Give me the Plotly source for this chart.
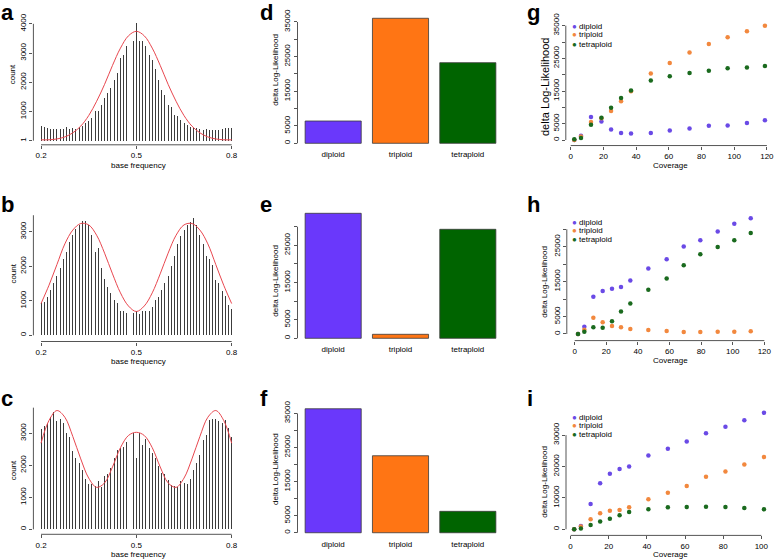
import plotly.graph_objects as go

W, H = 778, 559

# ---------------- data ----------------
freq = [0.20, 0.21, 0.22, 0.23, 0.24, 0.25, 0.26, 0.27, 0.28, 0.29,
        0.30, 0.31, 0.32, 0.33, 0.34, 0.35, 0.36, 0.37, 0.38, 0.39,
        0.40, 0.41, 0.42, 0.43, 0.44, 0.45, 0.46, 0.47, 0.48, 0.49,
        0.50, 0.51, 0.52, 0.53, 0.54, 0.55, 0.56, 0.57, 0.58, 0.59,
        0.60, 0.61, 0.62, 0.63, 0.64, 0.65, 0.66, 0.67, 0.68, 0.69,
        0.70, 0.71, 0.72, 0.73, 0.74, 0.75, 0.76, 0.77, 0.78, 0.79, 0.80]

hist_a = [510, 480, 420, 410, 400, 390, 390, 390, 460, 400,
          430, 400, 480, 510, 590, 690, 780, 1030, 1030, 1210,
          1460, 1630, 1800, 2090, 2320, 2830, 2950, 3230, 3520, 3430,
          4030, 3430, 3430, 3230, 2920, 2780, 2470, 2090, 1750, 1550,
          1210, 1140, 890, 830, 720, 610, 550, 460, 430, 430,
          400, 370, 400, 380, 380, 380, 380, 400, 430, 430, 430]
hist_b = [930, 975, 1120, 1310, 1510, 1720, 1940, 2220, 2420, 2700,
          2910, 3080, 3200, 3310, 3310, 3200, 2910, 2420, 2540, 1940,
          1630, 1410, 1220, 1020, 930, 700, 690, 660, 660, 640,
          700, 630, 700, 690, 710, 830, 1020, 1120, 1310, 1510,
          1730, 2010, 2300, 2640, 2890, 3050, 3200, 3270, 3390, 3200,
          2910, 2640, 2310, 2220, 2040, 1600, 1510, 1270, 1150, 880, 760]
hist_c = [3136, 3230, 3310, 3520, 3650, 3370, 3440, 3330, 3020, 2880,
          2460, 2220, 2060, 1850, 1560, 1420, 1420, 1350, 1520, 1330,
          1650, 1730, 1910, 2220, 2480, 2530, 2580, 2740, 2900, 3000,
          2220, 3000, 2640, 2810, 2530, 2380, 2220, 1980, 1750, 1730,
          1540, 1390, 1350, 1310, 1520, 1460, 1420, 1560, 1850, 2060,
          2320, 2790, 2950, 3420, 3440, 3440, 3370, 3330, 3420, 3160, 2880]

curve_x = [0.200, 0.225, 0.250, 0.275, 0.300, 0.325, 0.350, 0.375, 0.400, 0.425,
           0.450, 0.475, 0.500, 0.525, 0.550, 0.575, 0.600, 0.625, 0.650, 0.675,
           0.700, 0.725, 0.750, 0.775, 0.800]
curve_a = [30, 32, 60, 130, 270, 500, 860, 1350, 1930, 2580, 3170, 3590, 3745,
           3590, 3170, 2580, 1930, 1350, 860, 500, 270, 130, 60, 32, 30]
curve_b = [920, 1450, 2050, 2650, 3050, 3240, 3200, 2900, 2380, 1780, 1230, 850, 690,
           850, 1230, 1780, 2380, 2900, 3200, 3240, 3050, 2650, 2050, 1450, 920]
curve_c = [2690, 3400, 3710, 3500, 2900, 2200, 1600, 1310, 1450, 1950, 2550, 2930, 3030,
           2930, 2550, 1950, 1450, 1310, 1600, 2200, 2900, 3500, 3710, 3400, 2690]

ploidy = ["diploid", "triploid", "tetraploid"]
bars_d = [6430, 36070, 23260]
bars_e = [33600, 1075, 29300]
bars_f = [36360, 22580, 6275]

g_cov = [2.2, 6.3, 12.4, 18.8, 24.7, 30.8, 36.9, 49.0, 60.6, 72.7, 84.5, 96.0, 107.8, 118.8]
g_dip = [0, 1300, 7040, 5630, 3220, 2110, 2010, 2110, 2920, 3520, 4330, 4430, 5230, 6040]
g_tri = [0, 1100, 5530, 6640, 8850, 11870, 14890, 20320, 23540, 26760, 29375, 31490, 33300, 35010]
g_tet = [200, 600, 4630, 6840, 9860, 12880, 15190, 18210, 19520, 20520, 21230, 21930, 22230, 22640]

h_cov = [2.1, 6.1, 11.8, 17.7, 23.6, 29.3, 35.2, 46.6, 58.2, 69.0, 79.5, 90.5, 101.0, 111.4]
h_dip = [0, 2090, 10660, 12280, 12950, 13420, 15330, 18750, 21420, 25040, 26850, 29320, 31610, 33130]
h_tri = [0, 1240, 4660, 3330, 2280, 1900, 1430, 1140, 860, 570, 570, 670, 670, 760]
h_tet = [0, 670, 1900, 1810, 3620, 6470, 8760, 12660, 15900, 19710, 22850, 24940, 26850, 28940]

i_cov = [1.9, 5.4, 10.5, 15.5, 20.6, 25.7, 30.7, 40.8, 51.0, 60.9, 71.0, 81.2, 91.1, 101.4]
i_dip = [0, 1060, 8060, 14630, 17700, 19190, 20030, 23530, 25650, 27980, 30630, 32650, 34770, 37100]
i_tri = [0, 850, 3180, 5090, 5940, 6150, 7000, 9540, 11660, 13780, 16750, 18440, 20670, 23000]
i_tet = [0, 210, 1380, 2440, 3390, 4450, 5510, 6360, 7000, 7100, 7210, 7100, 6780, 6360]

hist_ticks = [0.2, 0.5, 0.8]
cov_ticks_120 = [0, 20, 40, 60, 80, 100, 120]
cov_ticks_100 = [0, 20, 40, 60, 80, 100]

# ---------------- styles ----------------
FONT = "Liberation Sans, Arial, Helvetica, sans-serif"
TXT = "#000000"
AX = "#555555"
BAR_COLORS = ["#6a38fb", "#ff7514", "#006400"]
PT_COLORS = ["#6a4ae6", "#f2883e", "#1a6a1e"]
HIST_BAR = "#3c3c3c"
CURVE = "#e8474f"


def dom_x(l, r):
    return [l / W, r / W]


def dom_y(t, b):
    return [1 - b / H, 1 - t / H]


fig = go.Figure()
layout = dict(width=W, height=H, margin=dict(l=0, r=0, t=0, b=0, pad=0, autoexpand=False),
              paper_bgcolor="white", plot_bgcolor="white", showlegend=False,
              font=dict(family=FONT, size=8, color=TXT), bargap=0)
shapes = []
annotations = []


def ax_names(n):
    s = "" if n == 1 else str(n)
    return "x" + s, "y" + s, "xaxis" + s, "yaxis" + s


def base_axis(dom, rng):
    return dict(domain=dom, range=rng, showgrid=False, zeroline=False, showline=False,
                automargin=False, ticks="outside", ticklen=3, tickwidth=1, tickcolor=AX,
                fixedrange=True, tickfont=dict(family=FONT, size=8, color=TXT))


def set_axes(n, box, xr, yr, xtv, xtt, ytv, ytt, xline, yline, cat=False):
    xa, ya, xk, yk = ax_names(n)
    l, t, r, b = box
    xd = base_axis(dom_x(l, r), xr)
    xd["anchor"] = ya
    if cat:
        xd.update(type="category", ticks="", ticklabelstandoff=0)
    else:
        xd.update(tickvals=xtv, ticktext=xtt)
    yd = base_axis(dom_y(t, b), yr)
    yd.update(anchor=xa, tickvals=ytv, ticktext=ytt, tickangle=-90)
    layout[xk] = xd
    layout[yk] = yd
    if xline:
        shapes.append(dict(type="line", xref=xa, yref=ya + " domain", x0=xline[0], x1=xline[1],
                           y0=0, y1=0, line=dict(color=AX, width=1)))
    if yline:
        shapes.append(dict(type="line", xref=xa + " domain", yref=ya, x0=0, x1=0,
                           y0=yline[0], y1=yline[1], line=dict(color=AX, width=1)))
    return xa, ya


def lbl(text, px, py, size=8, angle=0, anchor="center", bold=False, color=TXT):
    annotations.append(dict(text=("<b>%s</b>" % text) if bold else text,
                            x=px / W, y=1 - py / H, xref="paper", yref="paper",
                            showarrow=False, textangle=angle, xanchor=anchor, yanchor="middle",
                            borderpad=0,
                            font=dict(family=FONT, size=size, color=color)))


def k_labels(vals, shown):
    return [str(v) if v in shown else "" for v in vals]


# ---------------- histograms a, b, c ----------------
hist_specs = [
    (1, (33.4, 19.2, 239.3, 144.8), [-140, 4160], hist_a, curve_a, [1, 1000, 2000, 3000, 4000], (1, 4000)),
    (2, (33.4, 213.3, 239.3, 341.5), [-180, 3536], hist_b, curve_b, [0, 1000, 2000, 3000], (0, 3480)),
    (3, (33.4, 405.8, 239.3, 534.3), [-156, 3858], hist_c, curve_c, [0, 1000, 2000, 3000], (0, 3800)),
]
for n, box, yr, counts, curve, ytv, yl in hist_specs:
    xa, ya = set_axes(n, box, [0.176, 0.824], yr, hist_ticks, [str(v) for v in hist_ticks],
                      ytv, [str(v) for v in ytv], (0.2, 0.8), yl)
    fig.add_trace(go.Bar(x=freq, y=counts, width=0.0031, marker=dict(color=HIST_BAR, line=dict(width=0)),
                         xaxis=xa, yaxis=ya, hoverinfo="skip"))
    fig.add_trace(go.Scatter(x=curve_x, y=curve, mode="lines", line=dict(color=CURVE, width=1, shape="spline"),
                             xaxis=xa, yaxis=ya, hoverinfo="skip"))

# ---------------- bar charts d, e, f ----------------
ticks35 = [0, 5000, 10000, 15000, 20000, 25000, 30000, 35000]
ticks30 = [0, 5000, 10000, 15000, 20000, 25000, 30000]
shown = {0, 5000, 15000, 25000, 35000}
bar_specs = [
    (4, (297.5, 13.3, 503.5, 148.3), [-1443, 37508], bars_d, ticks35),
    (5, (297.5, 208.3, 503.5, 343.3), [-1344, 34944], bars_e, ticks30),
    (6, (297.5, 403.8, 503.5, 537.7), [-1454, 37814], bars_f, ticks35),
]
for n, box, yr, vals, ytv in bar_specs:
    xa, ya = set_axes(n, box, [-0.53, 2.53], yr, None, None, ytv, k_labels(ytv, shown),
                      None, (ytv[0], ytv[-1]), cat=True)
    fig.add_trace(go.Bar(x=ploidy, y=vals, width=1 / 1.2,
                         marker=dict(color=BAR_COLORS, line=dict(color="#3a3a3a", width=0.8)),
                         xaxis=xa, yaxis=ya, hoverinfo="skip"))

# ---------------- scatter g, h, i ----------------
sc_specs = [
    (7, (565.8, 21.1, 772.6, 145.55), [-3, 123.5], [-1700, 36400], g_cov, (g_dip, g_tri, g_tet),
     cov_ticks_120, ticks35, shown, (0, 35000)),
    (8, (566.8, 213.7, 771.9, 340.6), [-5, 124.8], [-1900, 34455], h_cov, (h_dip, h_tri, h_tet),
     cov_ticks_120, ticks30, shown, (0, 30000)),
    (9, (566.0, 408.2, 771.6, 535.4), [-2.4, 105.4], [-1950, 38580], i_cov, (i_dip, i_tri, i_tet),
     cov_ticks_100, [0, 10000, 20000, 30000], {0, 10000, 20000, 30000}, (0, 30000)),
]
for n, box, xr, yr, cov, series, xtv, ytv, yshown, yl in sc_specs:
    xa, ya = set_axes(n, box, xr, yr, xtv, [str(v) for v in xtv], ytv, k_labels(ytv, yshown),
                      (xtv[0], xtv[-1]), yl)
    for name, vals, col in zip(ploidy, series, PT_COLORS):
        fig.add_trace(go.Scatter(x=cov, y=vals, mode="markers", name=name,
                                 marker=dict(color=col, size=4.5, line=dict(width=0)),
                                 xaxis=xa, yaxis=ya, hoverinfo="skip"))

# ---------------- text ----------------
for ch, px, py in [("a", 0, 12.6), ("b", 0, 204.4), ("c", 0, 398.4),
                   ("d", 259, 12.6), ("e", 259, 204.4), ("f", 259, 398.4),
                   ("g", 526, 12.6), ("h", 526, 204.4), ("i", 526, 398.4)]:
    lbl(ch, px, py, size=22, anchor="left", bold=True, color="#000000")

for py in (74, 273.3, 470):
    lbl("count", 13.3, py, angle=-90)
for py in (166, 361, 554):
    lbl("base frequency", 138, py)
for py in (69.7, 280.7, 469):
    lbl("delta Log-Likelihood", 276, py, angle=-90)
lbl("delta Log-Likelihood", 545, 87, size=11, angle=-90)
lbl("delta Log-Likelihood", 545, 281.7, angle=-90)
lbl("delta Log-Likelihood", 545, 481.7, angle=-90)
for py in (165, 360.7, 554.3):
    lbl("Coverage", 670.3, py)

for rows in ((26.7, 35.0, 44.3), (222.3, 230.7, 239.3), (417.7, 425.7, 434.3)):
    for name, col, py in zip(ploidy, PT_COLORS, rows):
        lbl('<span style="color:%s">\u25CF</span> %s' % (col, name), 570.5, py, anchor="left")

layout["shapes"] = shapes
layout["annotations"] = annotations
fig.update_layout(**layout)
fig.write_html("out.html", config={"displayModeBar": False, "staticPlot": True},
               post_script="document.body.style.margin='0';document.body.style.overflow='hidden';")
